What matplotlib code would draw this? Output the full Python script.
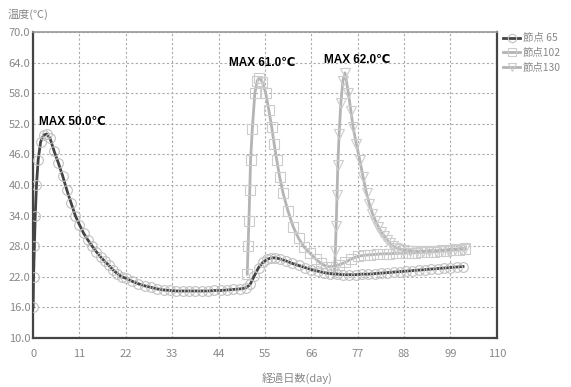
import matplotlib
matplotlib.use("Agg")
import matplotlib.pyplot as plt

plt.rcParams['font.family'] = ['Noto Sans CJK JP', 'DejaVu Sans']

# 節点 65
day_65 = [0, 0.1, 0.3, 0.5, 0.8, 1.2, 1.8, 2.5, 3.2, 4, 5, 6, 7, 8, 9, 10, 11, 12, 13, 14,
          15, 16, 17, 18, 19, 20, 21, 22, 23.5, 25, 26.5, 28, 29.5, 31, 32.5, 34, 35.5, 37,
          38.5, 40, 41.5, 43, 44.5, 46, 47.5, 49, 50.5, 51.5, 52.5, 53.5, 54.5, 55.5, 56.5,
          57.5, 58.5, 60, 61.5, 63, 64.5, 66, 67.5, 69, 70.5, 72, 73.5, 75, 76.5, 78, 79.5,
          81, 82.5, 84, 85.5, 87, 88.5, 90, 91.5, 93, 94.5, 96, 97.5, 99, 100.5, 102]
temp_65 = [16.0, 22.0, 28.0, 34.0, 40.0, 45.0, 48.5, 49.8, 50.0, 49.2, 46.6, 44.3, 41.8, 39.0,
           36.5, 34.0, 32.2, 30.5, 29.2, 28.0, 26.9, 25.9, 25.0, 24.2, 23.3, 22.6, 22.0, 21.7,
           21.1, 20.6, 20.2, 19.9, 19.6, 19.4, 19.3, 19.2, 19.2, 19.2, 19.2, 19.2, 19.2, 19.3,
           19.3, 19.4, 19.5, 19.6, 19.8, 20.5, 22.2, 23.8, 24.8, 25.4, 25.7, 25.7, 25.5, 25.1,
           24.6, 24.2, 23.8, 23.4, 23.1, 22.8, 22.6, 22.5, 22.4, 22.4, 22.4, 22.5, 22.5, 22.6,
           22.7, 22.8, 22.9, 23.0, 23.1, 23.2, 23.3, 23.4, 23.5, 23.6, 23.7, 23.8, 23.9, 24.0]

# 節点102
day_102 = [50.8, 51.0, 51.2, 51.4, 51.6, 52.0, 52.6, 53.2, 53.7, 54.4, 55.2, 55.9, 56.6,
           57.2, 57.8, 58.5, 59.3, 60.5, 61.7, 63.0, 64.3, 65.7, 67.0, 68.3, 69.6, 71.0,
           72.5, 74.0, 75.5, 77.0, 78.5, 80.0, 81.5, 83.0, 84.5, 86.0, 87.5, 89.0, 90.5,
           92.0, 93.5, 95.0, 96.5, 98.0, 99.5, 101.0, 102.5]
temp_102 = [22.5, 28.0, 33.0, 39.0, 45.0, 51.0, 58.0, 60.5, 61.0, 60.2, 58.0, 54.8, 51.4,
            48.0, 44.9, 41.5, 38.4, 34.8, 31.8, 29.5, 27.8, 26.6, 25.5, 24.6, 24.0, 24.0,
            24.3, 24.8, 25.5, 26.0, 26.2, 26.3, 26.4, 26.5, 26.5, 26.6, 26.6, 26.7, 26.7,
            26.8, 26.8, 26.9, 27.0, 27.1, 27.2, 27.3, 27.4]

# 節点130
day_130 = [71.5, 71.7, 71.9, 72.1, 72.3, 72.6, 73.0, 73.5, 74.0, 74.8, 75.4, 75.9, 76.7,
           77.5, 78.3, 79.1, 79.8, 80.5, 81.2, 81.9, 82.6, 83.3, 84.0, 84.6, 85.3, 86.0,
           87.0, 88.0, 89.5, 91.0, 92.5, 94.0, 95.5, 97.0, 98.5, 100.0, 101.5, 102.5]
temp_130 = [23.0, 27.0, 32.0, 38.0, 44.0, 50.0, 56.0, 60.5, 62.0, 58.0, 54.5, 51.4, 48.0,
            44.9, 41.5, 38.4, 36.2, 34.4, 33.0, 31.8, 30.8, 30.0, 29.2, 28.6, 28.1, 27.7,
            27.4, 27.2, 27.1, 27.0, 27.0, 27.1, 27.1, 27.2, 27.3, 27.4, 27.5, 27.6]

x_ticks = [0, 11, 22, 33, 44, 55, 66, 77, 88, 99, 110]
y_ticks = [10, 16, 22, 28, 34, 40, 46, 52, 58, 64, 70]

max_labels = [("MAX 50.0℃", 9.2, 52.4),
              ("MAX 61.0℃", 54.3, 63.9),
              ("MAX 62.0℃", 77.0, 64.5)]

fig = plt.figure(figsize=(5.71, 3.87), dpi=100)
ax = fig.add_axes([0.058, 0.127, 0.812, 0.790])

ax.plot(day_65, temp_65, color="#444444", lw=2.0, marker="o", ms=7,
        mfc="none", mec="#c0c0c0", mew=0.8, label="節点 65", zorder=4)
ax.plot(day_102, temp_102, color="#b4b4b4", lw=2.0, marker="s", ms=6.5,
        mfc="none", mec="#cccccc", mew=0.8, label="節点102", zorder=3)
ax.plot(day_130, temp_130, color="#b4b4b4", lw=2.0, marker="v", ms=6.5,
        mfc="none", mec="#cccccc", mew=0.8, label="節点130", zorder=3)

for txt, x, y in max_labels:
    ax.text(x, y, txt, ha="center", va="center", fontsize=8.5, fontweight="bold",
            family=["Liberation Sans", "DejaVu Sans"], color="black", zorder=6)

ax.set_xlim(0, 110)
ax.set_ylim(10, 70)
ax.set_xticks(x_ticks)
ax.set_yticks(y_ticks)
ax.set_yticklabels([f"{v:.1f}" for v in y_ticks])
ax.tick_params(length=0, labelsize=8, colors="#888888", pad=8)
ax.tick_params(axis="y", pad=2)
ax.grid(True, ls=(0, (2, 2)), color="#aaaaaa", lw=0.8)

for side in ["left", "bottom", "right"]:
    ax.spines[side].set_color("#444444")
    ax.spines[side].set_linewidth(1.6)
ax.spines["top"].set_color("#999999")
ax.spines["top"].set_linewidth(1.2)

fig.text(0.014, 0.962, "温度(℃)", fontsize=8, color="#888888", va="center")
fig.text(0.52, 0.022, "経過日数(day)", fontsize=8, color="#888888", ha="center", va="center")

ax.legend(loc="upper left", bbox_to_anchor=(1.005, 1.01), frameon=False, fontsize=7.5,
          labelcolor="#888888", handlelength=1.6, handletextpad=0.25, labelspacing=0.45,
          borderaxespad=0.2, borderpad=0.2, markerscale=0.85)

fig.savefig("out.png", dpi=100)
